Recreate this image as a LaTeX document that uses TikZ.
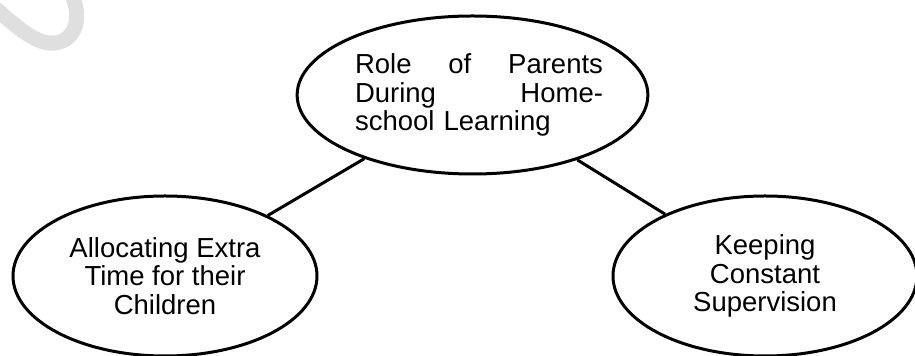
\documentclass[tikz,border=0pt]{standalone}
\usepackage{fontspec}
\setmainfont{Liberation Sans}
\usetikzlibrary{shapes.geometric}
\tikzset{bubble/.style={ellipse, draw, line width=1.5pt, inner sep=0pt,
    font=\fontsize{13.75pt}{14.15pt}\selectfont}}
\tikzset{link/.style={line width=1.5pt}}

\begin{document}
\begin{tikzpicture}[x=0.5pt, y=-0.5pt]
    \useasboundingbox (0,0) rectangle (915,356);
    % faint mark in the corner
    \draw[gray!25, line width=7.5pt] (-5,8) .. controls (20,30) and (38,45) .. (55,43)
        .. controls (76,40) and (82,18) .. (72,-5);
    \node[bubble, minimum width=174.5pt, minimum height=79pt, text width=124pt, align=left]
        (role) at (472.5,95) {\leftskip=3.25pt\rightskip=-3.25pt
        Role\hfill of\hfill Parents\\ During\hfill Home-\\ school Learning\par};
    \node[bubble, minimum width=152pt, minimum height=80pt, align=center]
        (extra) at (165,276) {Allocating Extra\\ Time for their\\ Children};
    \node[bubble, minimum width=152pt, minimum height=80pt, align=center]
        (keep) at (765,276) {Keeping\\ Constant\\ Supervision};
    \draw[link] (role) -- (extra);
    \draw[link] (role) -- (keep);
\end{tikzpicture}
\end{document}
